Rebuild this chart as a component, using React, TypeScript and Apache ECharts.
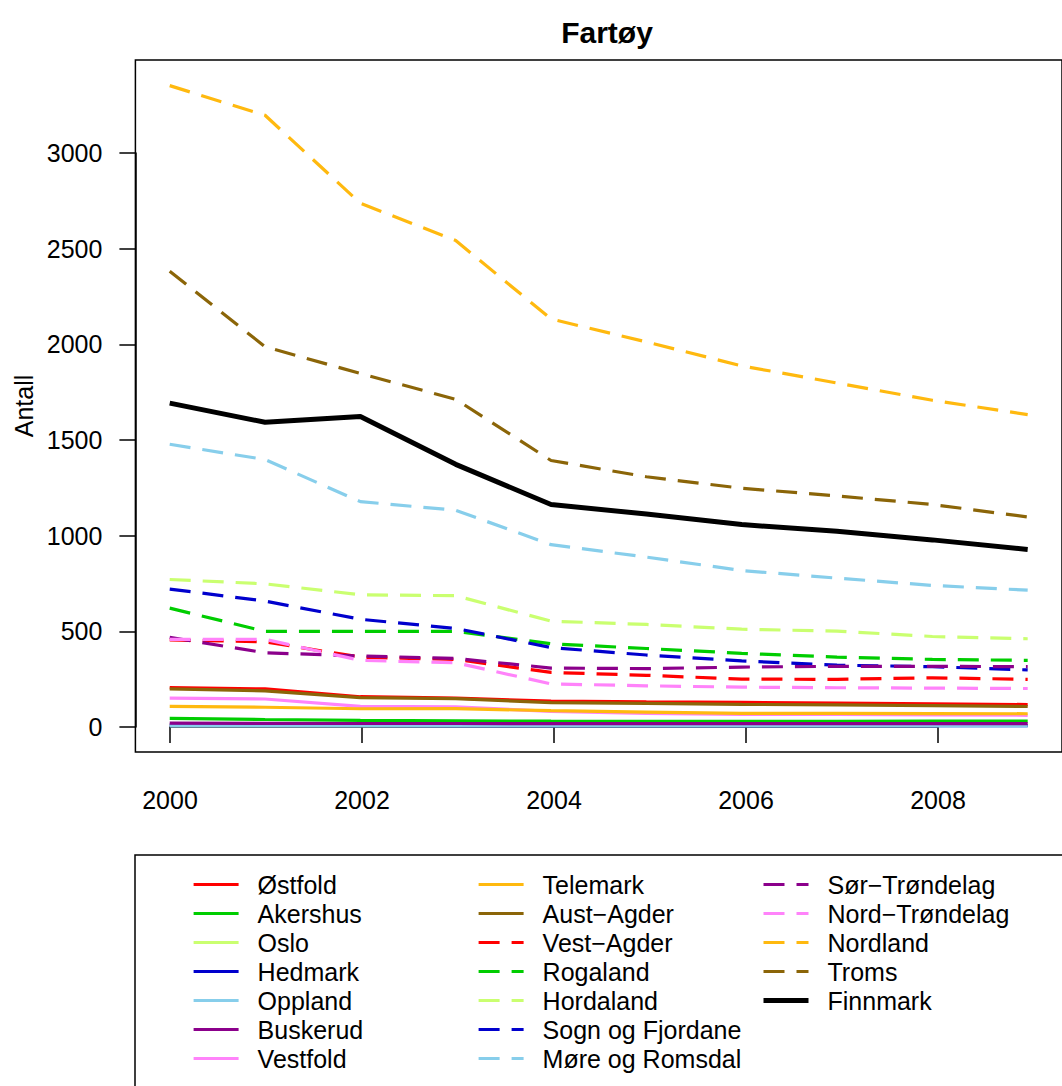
import React, { useEffect, useRef } from "react";
import * as echarts from "echarts";

const years = [2000, 2001, 2002, 2003, 2004, 2005, 2006, 2007, 2008, 2009];

const ostfold = [203, 196, 155, 148, 132, 128, 125, 122, 118, 114];
const akershus = [42, 36, 31, 29, 27, 26, 26, 26, 27, 27];
const oslo = [8, 7, 6, 6, 5, 5, 5, 5, 5, 5];
const hedmark = [6, 5, 5, 4, 4, 4, 4, 4, 4, 4];
const oppland = [3, 3, 3, 2, 2, 2, 2, 2, 2, 2];
const buskerud = [17, 16, 15, 15, 14, 14, 14, 14, 14, 14];
const vestfold = [148, 143, 105, 102, 78, 68, 63, 62, 60, 58];
const telemark = [105, 100, 92, 93, 82, 75, 68, 68, 67, 66];
const austAgder = [196, 186, 150, 145, 124, 120, 115, 112, 108, 104];
const vestAgder = [452, 442, 362, 350, 282, 267, 247, 246, 254, 246];
const rogaland = [618, 497, 497, 497, 432, 407, 382, 362, 350, 345];
const hordaland = [768, 745, 688, 683, 550, 533, 508, 498, 470, 458];
const sognOgFjordane = [718, 655, 560, 512, 412, 373, 342, 320, 312, 295];
const moreOgRomsdal = [1475, 1395, 1175, 1130, 950, 885, 815, 775, 737, 712];
const sorTrondelag = [465, 385, 368, 355, 305, 302, 310, 314, 314, 312];
const nordTrondelag = [455, 455, 345, 333, 222, 212, 205, 202, 200, 198];
const nordland = [3350, 3195, 2735, 2540, 2130, 2010, 1885, 1795, 1705, 1630];
const troms = [2380, 1985, 1845, 1710, 1390, 1305, 1245, 1205, 1160, 1095];
const finnmark = [1690, 1590, 1620, 1370, 1160, 1110, 1055, 1020, 975, 925];

const names = [
  "Østfold", "Akershus", "Oslo", "Hedmark", "Oppland", "Buskerud", "Vestfold",
  "Telemark", "Aust−Agder", "Vest−Agder", "Rogaland", "Hordaland",
  "Sogn og Fjordane", "Møre og Romsdal", "Sør−Trøndelag", "Nord−Trøndelag",
  "Nordland", "Troms", "Finnmark",
];
const values = [
  ostfold, akershus, oslo, hedmark, oppland, buskerud, vestfold, telemark,
  austAgder, vestAgder, rogaland, hordaland, sognOgFjordane, moreOgRomsdal,
  sorTrondelag, nordTrondelag, nordland, troms, finnmark,
];
const colors = [
  "#FF0000", "#00CD00", "#CAFF70", "#0000CD", "#87CEEB", "#8B008B", "#FF83FA",
  "#FFB90F", "#8B6508",
  "#FF0000", "#00CD00", "#CAFF70", "#0000CD", "#87CEEB", "#8B008B", "#FF83FA",
  "#FFB90F", "#8B6508", "#000000",
];
const dashed = [
  false, false, false, false, false, false, false, false, false,
  true, true, true, true, true, true, true, true, true, false,
];
const widths = [3.2, 3.2, 3.2, 3.2, 3.2, 3.2, 3.2, 3.2, 3.2, 3.2, 3.2, 3.2, 3.2, 3.2, 3.2, 3.2, 3.2, 3.2, 5];

const xTicksMin = 2000;
const xTicksMax = 2008;
const yTicksMax = 3000;

const FONT = "Liberation Sans, Arial, Helvetica, sans-serif";

export default function App() {
  const ref = useRef<HTMLDivElement>(null);
  useEffect(() => {
    if (!ref.current) return;
    const chart = echarts.init(ref.current, null, { renderer: "svg" });

    const lineStyleOf = (i: number) => ({
      color: colors[i],
      width: widths[i],
      type: dashed[i] ? [21, 12] : "solid",
      cap: "butt",
    });

    const series = names.map((n, i) => ({
      name: n,
      type: "line",
      xAxisIndex: 0,
      yAxisIndex: 0,
      data: years.map((y, j) => [y, values[i][j]]),
      symbol: "none",
      showSymbol: false,
      lineStyle: lineStyleOf(i),
      itemStyle: { color: colors[i] },
      silent: true,
    }));

    const legendCommon = {
      orient: "vertical",
      top: 872,
      itemWidth: 45,
      itemHeight: 14,
      itemGap: 4,
      padding: 0,
      selectedMode: false,
      itemStyle: { opacity: 0, borderWidth: 0 },
      textStyle: {
        fontFamily: FONT,
        fontSize: 25,
        lineHeight: 25,
        color: "#000",
        padding: [0, 0, 0, 14],
      },
    };
    const legendData = (from: number, to: number) =>
      names.slice(from, to).map((n, k) => ({
        name: n,
        lineStyle: lineStyleOf(from + k),
        itemStyle: { opacity: 0, borderWidth: 0 },
      }));

    chart.setOption({
      animation: false,
      backgroundColor: "#fff",
      textStyle: { fontFamily: FONT },
      title: {
        text: "Fartøy",
        left: 602,
        textAlign: "center",
        top: 12,
        textStyle: { fontFamily: FONT, fontSize: 30, fontWeight: "bold", color: "#000" },
      },
      grid: [
        {
          left: 135.4,
          top: 60,
          width: 933.2,
          height: 692,
          show: true,
          borderColor: "#000",
          borderWidth: 1.5,
          backgroundColor: "transparent",
        },
        {
          left: 170,
          top: 153,
          width: 768,
          height: 574,
          show: false,
        },
      ],
      xAxis: [
        {
          type: "value",
          gridIndex: 0,
          min: 1999.64,
          max: 2009.36,
          show: false,
        },
        {
          type: "value",
          gridIndex: 1,
          min: xTicksMin,
          max: xTicksMax,
          interval: 2,
          offset: 25,
          position: "bottom",
          axisLine: { show: true, lineStyle: { color: "#000", width: 1.5 } },
          axisTick: { show: true, length: 16, lineStyle: { color: "#000", width: 1.5 } },
          axisLabel: {
            fontSize: 25, color: "#000", margin: 35, fontFamily: FONT,
            formatter: (v: number) => String(v),
          },
          splitLine: { show: false },
        },
      ],
      yAxis: [
        {
          type: "value",
          gridIndex: 0,
          min: -134,
          max: 3484,
          show: false,
        },
        {
          type: "value",
          gridIndex: 1,
          min: 0,
          max: yTicksMax,
          interval: 500,
          offset: 34.6,
          position: "left",
          axisLine: { show: true, lineStyle: { color: "#000", width: 1.5 } },
          axisTick: { show: true, length: 16, lineStyle: { color: "#000", width: 1.5 } },
          axisLabel: {
            fontSize: 25, color: "#000", margin: 33, fontFamily: FONT,
            formatter: (v: number) => String(v),
          },
          splitLine: { show: false },
        },
      ],
      legend: [
        { ...legendCommon, left: 192, data: legendData(0, 7) },
        { ...legendCommon, left: 477, data: legendData(7, 14) },
        { ...legendCommon, left: 761, data: legendData(14, 19) },
      ],
      graphic: [
        {
          type: "text",
          x: 24,
          y: 406,
          rotation: Math.PI / 2,
          style: {
            text: "Antall",
            fontSize: 25,
            fontFamily: FONT,
            fill: "#000",
            textAlign: "center",
            textVerticalAlign: "middle",
          },
        },
        {
          type: "rect",
          shape: { x: 135, y: 855, width: 1000, height: 400 },
          style: { fill: "none", stroke: "#000", lineWidth: 1.5 },
          silent: true,
        },
      ],
      series,
    });

    return () => chart.dispose();
  }, []);

  return (
    <div
      ref={ref}
      style={{ position: "absolute", left: 0, top: 0, width: 1062, height: 1086 }}
    />
  );
}
